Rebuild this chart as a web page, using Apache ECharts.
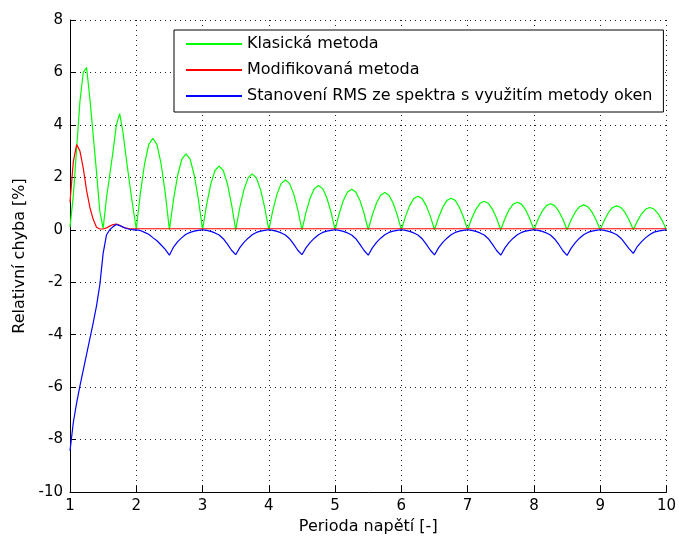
<!DOCTYPE html>
<html>
<head>
<meta charset="utf-8">
<title>Relativní chyba</title>
<script src="https://cdn.jsdelivr.net/npm/echarts@6/dist/echarts.min.js"></script>
<style>
  html, body { margin: 0; padding: 0; background: #fff; }
  #main { width: 679px; height: 540px; }
</style>
</head>
<body>
<div id="main"></div>
<script>
// perioda napeti (x)
const periods = [
  1, 1.05, 1.1, 1.15, 1.2, 1.25, 1.3, 1.35, 1.4, 1.45, 1.5, 1.55, 1.6, 1.65, 1.7, 1.75, 1.8, 1.85, 1.9, 1.95, 2,
  2.0625, 2.125, 2.1875, 2.25, 2.3125, 2.375, 2.4375, 2.5, 2.5625, 2.625, 2.6875, 2.75, 2.8125, 2.875, 2.9375, 3,
  3.0625, 3.125, 3.1875, 3.25, 3.3125, 3.375, 3.4375, 3.5, 3.5625, 3.625, 3.6875, 3.75, 3.8125, 3.875, 3.9375, 4,
  4.0625, 4.125, 4.1875, 4.25, 4.3125, 4.375, 4.4375, 4.5, 4.5625, 4.625, 4.6875, 4.75, 4.8125, 4.875, 4.9375, 5,
  5.0625, 5.125, 5.1875, 5.25, 5.3125, 5.375, 5.4375, 5.5, 5.5625, 5.625, 5.6875, 5.75, 5.8125, 5.875, 5.9375, 6,
  6.0625, 6.125, 6.1875, 6.25, 6.3125, 6.375, 6.4375, 6.5, 6.5625, 6.625, 6.6875, 6.75, 6.8125, 6.875, 6.9375, 7,
  7.0625, 7.125, 7.1875, 7.25, 7.3125, 7.375, 7.4375, 7.5, 7.5625, 7.625, 7.6875, 7.75, 7.8125, 7.875, 7.9375, 8,
  8.0625, 8.125, 8.1875, 8.25, 8.3125, 8.375, 8.4375, 8.5, 8.5625, 8.625, 8.6875, 8.75, 8.8125, 8.875, 8.9375, 9,
  9.0625, 9.125, 9.1875, 9.25, 9.3125, 9.375, 9.4375, 9.5, 9.5625, 9.625, 9.6875, 9.75, 9.8125, 9.875, 9.9375, 10
];

// Klasicka metoda
const classicErr = [
  0.1, 1.3, 3.1, 4.9, 6.0, 6.19, 5.0, 3.6, 2.2, 0.7, 0.05, 1.2, 2.1, 3.0, 4.0, 4.43, 3.7, 2.7, 1.75, 0.85, 0.03,
  1.4, 2.51, 3.25, 3.49, 3.25, 2.51, 1.4, 0, 1.16, 2.08, 2.69, 2.89, 2.69, 2.08, 1.16, 0,
  0.97, 1.75, 2.26, 2.43, 2.26, 1.75, 0.97, 0, 0.85, 1.53, 1.98, 2.13, 1.98, 1.53, 0.85, 0,
  0.76, 1.37, 1.77, 1.9, 1.77, 1.37, 0.76, 0, 0.68, 1.22, 1.57, 1.69, 1.57, 1.22, 0.68, 0,
  0.62, 1.12, 1.44, 1.55, 1.44, 1.12, 0.62, 0, 0.57, 1.02, 1.32, 1.42, 1.32, 1.02, 0.57, 0,
  0.51, 0.92, 1.19, 1.28, 1.19, 0.92, 0.51, 0, 0.48, 0.86, 1.12, 1.2, 1.12, 0.86, 0.48, 0,
  0.44, 0.78, 1.01, 1.09, 1.01, 0.78, 0.44, 0, 0.42, 0.76, 0.98, 1.05, 0.98, 0.76, 0.42, 0,
  0.4, 0.71, 0.92, 0.99, 0.92, 0.71, 0.4, 0, 0.38, 0.68, 0.88, 0.95, 0.88, 0.68, 0.38, 0,
  0.36, 0.66, 0.85, 0.91, 0.85, 0.66, 0.36, 0, 0.34, 0.61, 0.79, 0.85, 0.79, 0.61, 0.34, 0
];

// Modifikovana metoda
const modifiedErr = [
  1.05, 2.6, 3.25, 3.0, 2.35, 1.5, 0.85, 0.4, 0.1, 0.03, 0.03, 0.07, 0.14, 0.2, 0.22, 0.17, 0.1, 0.06, 0.04, 0.04, 0.04,
  0.04, 0.04, 0.04, 0.04, 0.04, 0.04, 0.04, 0.04, 0.04, 0.04, 0.04, 0.04, 0.04, 0.04, 0.04, 0.04,
  0.04, 0.04, 0.04, 0.04, 0.04, 0.04, 0.04, 0.04, 0.04, 0.04, 0.04, 0.04, 0.04, 0.04, 0.04, 0.04,
  0.04, 0.04, 0.04, 0.04, 0.04, 0.04, 0.04, 0.04, 0.04, 0.04, 0.04, 0.04, 0.04, 0.04, 0.04, 0.04,
  0.04, 0.04, 0.04, 0.04, 0.04, 0.04, 0.04, 0.04, 0.04, 0.04, 0.04, 0.04, 0.04, 0.04, 0.04, 0.04,
  0.04, 0.04, 0.04, 0.04, 0.04, 0.04, 0.04, 0.04, 0.04, 0.04, 0.04, 0.04, 0.04, 0.04, 0.04, 0.04,
  0.04, 0.04, 0.04, 0.04, 0.04, 0.04, 0.04, 0.04, 0.04, 0.04, 0.04, 0.04, 0.04, 0.04, 0.04, 0.04,
  0.04, 0.04, 0.04, 0.04, 0.04, 0.04, 0.04, 0.04, 0.04, 0.04, 0.04, 0.04, 0.04, 0.04, 0.04, 0.04,
  0.04, 0.04, 0.04, 0.04, 0.04, 0.04, 0.04, 0.04, 0.04, 0.04, 0.04, 0.04, 0.04, 0.04, 0.04, 0.04
];

// Stanoveni RMS ze spektra s vyuzitim metody oken
const windowErr = [
  -8.43, -7.35, -6.6, -5.95, -5.35, -4.75, -4.15, -3.55, -2.9, -2.1, -0.9, -0.2, 0, 0.12, 0.2, 0.16, 0.1, 0.05, 0.02, 0, 0,
  -0.03, -0.1, -0.17, -0.3, -0.42, -0.58, -0.75, -0.97, -0.66, -0.45, -0.3, -0.17, -0.1, -0.05, -0.02, 0,
  -0.02, -0.06, -0.12, -0.2, -0.34, -0.55, -0.78, -0.95, -0.68, -0.48, -0.32, -0.19, -0.1, -0.05, -0.02, 0,
  -0.02, -0.06, -0.12, -0.2, -0.34, -0.55, -0.78, -0.95, -0.68, -0.48, -0.32, -0.19, -0.1, -0.05, -0.02, 0,
  -0.02, -0.06, -0.12, -0.2, -0.34, -0.56, -0.79, -0.97, -0.69, -0.48, -0.32, -0.19, -0.1, -0.05, -0.02, 0,
  -0.02, -0.06, -0.12, -0.2, -0.34, -0.55, -0.78, -0.96, -0.68, -0.48, -0.32, -0.19, -0.1, -0.05, -0.02, 0,
  -0.02, -0.06, -0.12, -0.2, -0.34, -0.56, -0.79, -0.97, -0.69, -0.48, -0.32, -0.19, -0.1, -0.05, -0.02, 0,
  -0.02, -0.06, -0.12, -0.2, -0.35, -0.56, -0.8, -0.98, -0.7, -0.49, -0.32, -0.19, -0.1, -0.05, -0.02, 0,
  -0.02, -0.06, -0.11, -0.19, -0.32, -0.52, -0.73, -0.9, -0.63, -0.45, -0.3, -0.18, -0.09, -0.05, -0.02, 0
];

const seriesNames = [
  "Klasická metoda",
  "Modifikovaná metoda",
  "Stanovení RMS ze spektra s využitím metody oken"
];
const seriesColors = ["#00ff00", "#ff0000", "#0000ff"];

const font = "DejaVu Sans";

function pairs(ys) {
  return periods.map(function (x, i) {
    return [x, ys[i]];
  });
}

let chart = echarts.init(document.getElementById("main"), null, { renderer: "canvas" });

const dotted = {
  show: true,
  lineStyle: { color: "#222", width: 1, type: [1, 4] }
};

let option = {
  backgroundColor: "#fff",
  animation: false,
  grid: { left: 70, top: 20, right: 8, bottom: 48 },
  legend: {
    orient: "vertical",
    left: 174,
    top: 30,
    icon: "rect",
    itemWidth: 56,
    itemHeight: 2,
    itemGap: 10,
    padding: [6, 11, 8, 12],
    backgroundColor: "#fff",
    borderColor: "#000",
    borderWidth: 1,
    borderRadius: 0,
    textStyle: { fontFamily: font, fontSize: 16, color: "#000", lineHeight: 16 },
    data: seriesNames
  },
  xAxis: {
    type: "value",
    min: 1,
    max: 10,
    interval: 1,
    name: "Perioda napětí [-]",
    nameLocation: "middle",
    nameGap: 23,
    nameTextStyle: { fontFamily: font, fontSize: 16, color: "#000" },
    axisLine: { onZero: false, lineStyle: { color: "#000", width: 1 } },
    axisTick: { inside: true, length: 6, lineStyle: { color: "#000" } },
    axisLabel: { fontFamily: font, fontSize: 15, color: "#000", margin: 7 },
    splitLine: dotted
  },
  yAxis: {
    type: "value",
    min: -10,
    max: 8,
    interval: 2,
    name: "Relativní chyba [%]",
    nameLocation: "middle",
    nameGap: 42,
    nameTextStyle: { fontFamily: font, fontSize: 16, color: "#000" },
    axisLine: { show: true, onZero: false, lineStyle: { color: "#000", width: 1 } },
    axisTick: { show: true, inside: true, length: 6, lineStyle: { color: "#000" } },
    axisLabel: { fontFamily: font, fontSize: 15, color: "#000", margin: 7 },
    splitLine: dotted
  },
  series: [
    { name: seriesNames[0], type: "line", data: pairs(classicErr) },
    { name: seriesNames[1], type: "line", data: pairs(modifiedErr) },
    { name: seriesNames[2], type: "line", data: pairs(windowErr) }
  ].map(function (s, i) {
    s.symbol = "none";
    s.showSymbol = false;
    s.color = seriesColors[i];
    s.lineStyle = { color: seriesColors[i], width: 1.2 };
    return s;
  })
};

option && chart.setOption(option);
</script>
</body>
</html>
